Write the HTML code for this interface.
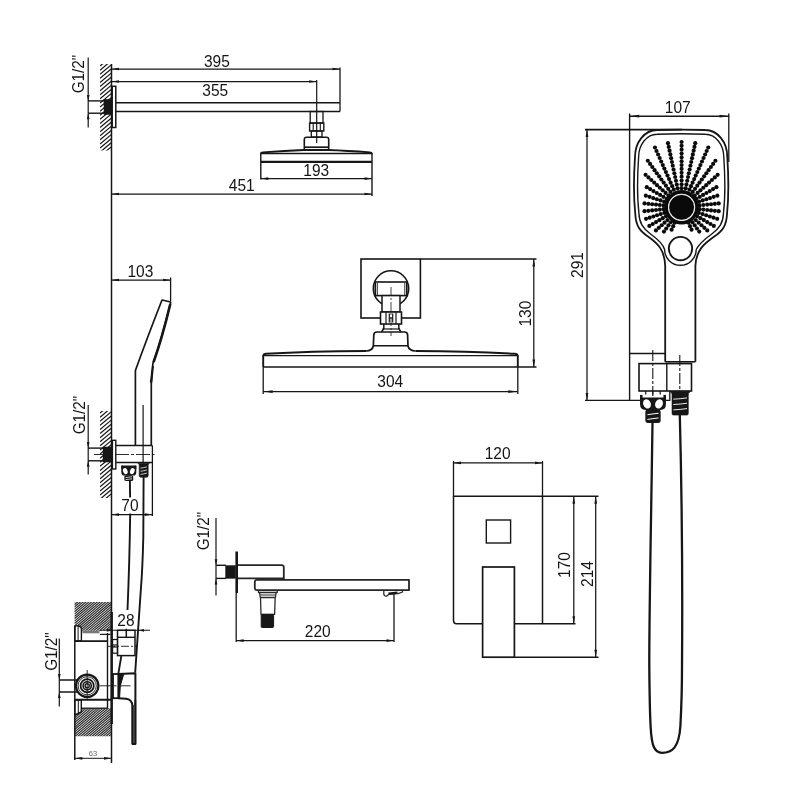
<!DOCTYPE html>
<html><head><meta charset="utf-8"><title>Shower set dimensions</title>
<style>
html,body{margin:0;padding:0;background:#fff;}
body{width:800px;height:800px;overflow:hidden;font-family:"Liberation Sans",sans-serif;}
svg{display:block;font-family:"Liberation Sans",sans-serif;filter:grayscale(1);}
</style></head>
<body>
<svg width="800" height="800" viewBox="0 0 800 800">
<rect width="800" height="800" fill="#fff"/>
<clipPath id="h1"><rect x="100" y="64" width="11.5" height="86.5"/></clipPath>
<g clip-path="url(#h1)" stroke="#161616" stroke-width="1.2"><line x1="100" y1="62" x2="111.5" y2="52.35"/><line x1="100" y1="66.1" x2="111.5" y2="56.45"/><line x1="100" y1="70.2" x2="111.5" y2="60.55"/><line x1="100" y1="74.3" x2="111.5" y2="64.65"/><line x1="100" y1="78.4" x2="111.5" y2="68.75"/><line x1="100" y1="82.5" x2="111.5" y2="72.85"/><line x1="100" y1="86.6" x2="111.5" y2="76.95"/><line x1="100" y1="90.7" x2="111.5" y2="81.05"/><line x1="100" y1="94.8" x2="111.5" y2="85.15"/><line x1="100" y1="98.9" x2="111.5" y2="89.25"/><line x1="100" y1="103" x2="111.5" y2="93.35"/><line x1="100" y1="107.1" x2="111.5" y2="97.45"/><line x1="100" y1="111.2" x2="111.5" y2="101.55"/><line x1="100" y1="115.3" x2="111.5" y2="105.65"/><line x1="100" y1="119.4" x2="111.5" y2="109.75"/><line x1="100" y1="123.5" x2="111.5" y2="113.85"/><line x1="100" y1="127.6" x2="111.5" y2="117.95"/><line x1="100" y1="131.7" x2="111.5" y2="122.05"/><line x1="100" y1="135.8" x2="111.5" y2="126.15"/><line x1="100" y1="139.9" x2="111.5" y2="130.25"/><line x1="100" y1="144" x2="111.5" y2="134.35"/><line x1="100" y1="148.1" x2="111.5" y2="138.45"/><line x1="100" y1="152.2" x2="111.5" y2="142.55"/><line x1="100" y1="156.3" x2="111.5" y2="146.65"/><line x1="100" y1="160.4" x2="111.5" y2="150.75"/></g>
<line x1="111.5" y1="64" x2="111.5" y2="763" stroke="#161616" stroke-width="1.5" stroke-linecap="butt"/>
<rect x="112.2" y="86.3" width="3.6" height="41.2" rx="0" fill="none" stroke="#161616" stroke-width="1.5"/>
<line x1="88" y1="100.9" x2="104" y2="100.9" stroke="#161616" stroke-width="1.4" stroke-linecap="butt"/>
<line x1="88" y1="113.2" x2="104" y2="113.2" stroke="#161616" stroke-width="1.4" stroke-linecap="butt"/>
<rect x="104" y="99.3" width="7.5" height="15.2" rx="0" fill="#161616" stroke="#161616" stroke-width="0.5"/>
<line x1="88.2" y1="57.5" x2="88.2" y2="127.5" stroke="#161616" stroke-width="1.2" stroke-linecap="butt"/>
<polygon points="88.2,100.9 86.85,94.9 89.55,94.9" fill="#161616"/>
<polygon points="88.2,113.2 89.55,119.2 86.85,119.2" fill="#161616"/>
<text x="0" y="0" font-size="15.3" text-anchor="middle" fill="#151515" transform="translate(84 74) rotate(-90) scale(1 1.06)">G1/2"</text>
<line x1="115.8" y1="102.8" x2="340" y2="102.8" stroke="#161616" stroke-width="1.4" stroke-linecap="butt"/>
<line x1="115.8" y1="111.5" x2="340" y2="111.5" stroke="#161616" stroke-width="1.4" stroke-linecap="butt"/>
<line x1="340" y1="67.5" x2="340" y2="111.5" stroke="#161616" stroke-width="1.3" stroke-linecap="butt"/>
<line x1="111.5" y1="69" x2="340" y2="69" stroke="#161616" stroke-width="1.25" stroke-linecap="butt"/>
<polygon points="111.5,69 119,67.65 119,70.35" fill="#161616"/>
<polygon points="340,69 332.5,70.35 332.5,67.65" fill="#161616"/>
<line x1="111.5" y1="81.5" x2="316.7" y2="81.5" stroke="#161616" stroke-width="1.25" stroke-linecap="butt"/>
<polygon points="111.5,81.5 119,80.15 119,82.85" fill="#161616"/>
<polygon points="316.7,81.5 309.2,82.85 309.2,80.15" fill="#161616"/>
<line x1="316.7" y1="80" x2="316.7" y2="143" stroke="#161616" stroke-width="1.2" stroke-linecap="butt"/>
<text x="0" y="0" font-size="15.5" text-anchor="middle" fill="#151515" transform="translate(216.9 66.8) scale(1 1.035)">395</text>
<text x="0" y="0" font-size="15.5" text-anchor="middle" fill="#151515" transform="translate(215.2 95.9) scale(1 1.035)">355</text>
<rect x="310.2" y="111.5" width="12.8" height="11.5" rx="0" fill="none" stroke="#161616" stroke-width="1.3"/>
<rect x="309.6" y="123" width="14.2" height="8" rx="0" fill="none" stroke="#161616" stroke-width="1.4"/>
<line x1="313.2" y1="123" x2="313.2" y2="131" stroke="#161616" stroke-width="1.1" stroke-linecap="butt"/>
<line x1="320.3" y1="123" x2="320.3" y2="131" stroke="#161616" stroke-width="1.1" stroke-linecap="butt"/>
<rect x="311.3" y="131" width="10.7" height="6" rx="0" fill="none" stroke="#161616" stroke-width="1.3"/>
<path d="M304.3,150 L304.3,139.5 Q304.3,137.3 306.5,137.3 L326.5,137.3 Q328.7,137.3 328.7,139.5 L328.7,150" fill="none" stroke="#161616" stroke-width="1.6" stroke-linejoin="round" stroke-linecap="butt"/>
<line x1="304.3" y1="147.2" x2="328.7" y2="147.2" stroke="#161616" stroke-width="1.7" stroke-linecap="butt"/>
<path d="M260.8,153.6 Q261,152.6 263,152.4 Q285,150.6 304,150 L328,150 Q347,150.6 370,152.4 Q371.8,152.6 372,153.6" fill="none" stroke="#161616" stroke-width="1.9" stroke-linejoin="round" stroke-linecap="butt"/>
<line x1="260.8" y1="153.4" x2="372" y2="153.4" stroke="#161616" stroke-width="1.5" stroke-linecap="butt"/>
<line x1="260.8" y1="161.9" x2="372" y2="161.9" stroke="#161616" stroke-width="2.1" stroke-linecap="butt"/>
<line x1="260.8" y1="153" x2="260.8" y2="179.5" stroke="#161616" stroke-width="1.4" stroke-linecap="butt"/>
<line x1="372" y1="153" x2="372" y2="196" stroke="#161616" stroke-width="1.4" stroke-linecap="butt"/>
<line x1="260.8" y1="178.6" x2="372" y2="178.6" stroke="#161616" stroke-width="1.25" stroke-linecap="butt"/>
<polygon points="260.8,178.6 268.3,177.25 268.3,179.95" fill="#161616"/>
<polygon points="372,178.6 364.5,179.95 364.5,177.25" fill="#161616"/>
<text x="0" y="0" font-size="15.5" text-anchor="middle" fill="#151515" transform="translate(316.2 175.9) scale(1 1.035)">193</text>
<line x1="111.5" y1="194" x2="372" y2="194" stroke="#161616" stroke-width="1.25" stroke-linecap="butt"/>
<polygon points="111.5,194 119,192.65 119,195.35" fill="#161616"/>
<polygon points="372,194 364.5,195.35 364.5,192.65" fill="#161616"/>
<text x="0" y="0" font-size="15.5" text-anchor="middle" fill="#151515" transform="translate(241.8 190.8) scale(1 1.035)">451</text>
<rect x="361" y="259" width="59.4" height="59" rx="0" fill="none" stroke="#161616" stroke-width="1.6"/>
<line x1="420.4" y1="259" x2="536.5" y2="259" stroke="#161616" stroke-width="1.4" stroke-linecap="butt"/>
<circle cx="391" cy="288.5" r="17.7" fill="none" stroke="#161616" stroke-width="1.6"/>
<rect x="375.3" y="282" width="31.5" height="13.6" rx="0" fill="#fff" stroke="#161616" stroke-width="1.6"/>
<line x1="377.3" y1="283" x2="377.3" y2="295" stroke="#161616" stroke-width="0.9" stroke-linecap="butt"/>
<line x1="404.8" y1="283" x2="404.8" y2="295" stroke="#161616" stroke-width="0.9" stroke-linecap="butt"/>
<rect x="382" y="295.6" width="18" height="16.4" rx="0" fill="#fff" stroke="#161616" stroke-width="1.5"/>
<rect x="380.5" y="312" width="21" height="12" rx="0" fill="#fff" stroke="#161616" stroke-width="1.6"/>
<line x1="386" y1="312" x2="386" y2="324" stroke="#161616" stroke-width="1.2" stroke-linecap="butt"/>
<line x1="389.3" y1="313.5" x2="389.3" y2="322.5" stroke="#161616" stroke-width="1.2" stroke-linecap="butt"/>
<line x1="392.7" y1="313.5" x2="392.7" y2="322.5" stroke="#161616" stroke-width="1.2" stroke-linecap="butt"/>
<line x1="396" y1="312" x2="396" y2="324" stroke="#161616" stroke-width="1.2" stroke-linecap="butt"/>
<line x1="389.3" y1="318" x2="392.7" y2="318" stroke="#161616" stroke-width="1.1" stroke-linecap="butt"/>
<path d="M383.8,324 L383.8,328.5 L381.5,332 M398.8,324 L398.8,328.5 L401,332" fill="none" stroke="#161616" stroke-width="1.5" stroke-linejoin="round" stroke-linecap="butt"/>
<line x1="382.5" y1="329" x2="400" y2="329" stroke="#161616" stroke-width="1.2" stroke-linecap="butt"/>
<path d="M366,351 Q372.5,350.6 373.3,346 L373.8,335 Q373.8,332 377,332 L404.5,332 Q407.6,332 407.6,335 L408,346 Q409,350.6 415.5,351" fill="none" stroke="#161616" stroke-width="1.7" stroke-linejoin="round" stroke-linecap="butt"/>
<line x1="373.6" y1="345.8" x2="407.8" y2="345.8" stroke="#161616" stroke-width="1.4" stroke-linecap="butt"/>
<line x1="391" y1="287" x2="391" y2="336" stroke="#161616" stroke-width="0.8" stroke-linecap="butt" stroke-dasharray="9 2 2 2"/>
<path d="M263.2,367 L263.2,355.5 Q263.5,354.2 266,353.8 Q310,351.3 366,351 M415.5,351 Q470,351.3 515,353.8 Q517.5,354.2 517.8,355.5 L517.8,367" fill="none" stroke="#161616" stroke-width="1.9" stroke-linejoin="round" stroke-linecap="butt"/>
<line x1="263.2" y1="355.7" x2="517.8" y2="355.7" stroke="#161616" stroke-width="1.3" stroke-linecap="butt"/>
<line x1="263.2" y1="367" x2="536.5" y2="367" stroke="#161616" stroke-width="1.6" stroke-linecap="butt"/>
<line x1="263.2" y1="367" x2="263.2" y2="394" stroke="#161616" stroke-width="1.3" stroke-linecap="butt"/>
<line x1="517.8" y1="367" x2="517.8" y2="394" stroke="#161616" stroke-width="1.3" stroke-linecap="butt"/>
<line x1="263.2" y1="391.6" x2="517.8" y2="391.6" stroke="#161616" stroke-width="1.4" stroke-linecap="butt"/>
<polygon points="263.2,391.6 272.7,390.25 272.7,392.95" fill="#161616"/>
<polygon points="517.8,391.6 508.3,392.95 508.3,390.25" fill="#161616"/>
<text x="0" y="0" font-size="15.5" text-anchor="middle" fill="#151515" transform="translate(390.2 386.5) scale(1 1.035)">304</text>
<line x1="533.8" y1="259" x2="533.8" y2="367" stroke="#161616" stroke-width="1.25" stroke-linecap="butt"/>
<polygon points="533.8,259 535.15,266.5 532.45,266.5" fill="#161616"/>
<polygon points="533.8,367 532.45,359.5 535.15,359.5" fill="#161616"/>
<text x="0" y="0" font-size="15.5" text-anchor="middle" fill="#151515" transform="translate(530.8 313.6) rotate(-90) scale(1 1.035)">130</text>
<line x1="111.5" y1="280" x2="170.6" y2="280" stroke="#161616" stroke-width="1.25" stroke-linecap="butt"/>
<polygon points="111.5,280 119,278.65 119,281.35" fill="#161616"/>
<polygon points="170.6,280 163.1,281.35 163.1,278.65" fill="#161616"/>
<line x1="170.6" y1="277.5" x2="170.6" y2="301.5" stroke="#161616" stroke-width="1.3" stroke-linecap="butt"/>
<text x="0" y="0" font-size="15.5" text-anchor="middle" fill="#151515" transform="translate(140.4 276.9) scale(1 1.035)">103</text>
<path d="M170.8,302 L162,300 C153,323 143.5,348 135.4,370.5 L135.4,445.6" fill="none" stroke="#161616" stroke-width="1.7" stroke-linejoin="round" stroke-linecap="butt"/>
<path d="M170.8,302 C165,325 158,350 153,363 C151.8,370 151.3,378 151.3,384 L151.3,445.6" fill="none" stroke="#161616" stroke-width="1.7" stroke-linejoin="round" stroke-linecap="butt"/>
<path d="M170.3,304 C165,326 158.3,349 153.6,362" fill="none" stroke="#161616" stroke-width="2.6" stroke-linejoin="round" stroke-linecap="butt"/>
<path d="M153.2,366.5 L150.6,382 L151.6,382 Z" fill="#161616" stroke="#161616" stroke-width="1.5" stroke-linejoin="round" stroke-linecap="butt"/>
<line x1="143.1" y1="405" x2="143.1" y2="462.4" stroke="#161616" stroke-width="1.2" stroke-linecap="butt"/>
<clipPath id="h2"><rect x="100" y="411" width="11.5" height="87"/></clipPath>
<g clip-path="url(#h2)" stroke="#161616" stroke-width="1.2"><line x1="100" y1="409" x2="111.5" y2="399.35"/><line x1="100" y1="413.1" x2="111.5" y2="403.45"/><line x1="100" y1="417.2" x2="111.5" y2="407.55"/><line x1="100" y1="421.3" x2="111.5" y2="411.65"/><line x1="100" y1="425.4" x2="111.5" y2="415.75"/><line x1="100" y1="429.5" x2="111.5" y2="419.85"/><line x1="100" y1="433.6" x2="111.5" y2="423.95"/><line x1="100" y1="437.7" x2="111.5" y2="428.05"/><line x1="100" y1="441.8" x2="111.5" y2="432.15"/><line x1="100" y1="445.9" x2="111.5" y2="436.25"/><line x1="100" y1="450" x2="111.5" y2="440.35"/><line x1="100" y1="454.1" x2="111.5" y2="444.45"/><line x1="100" y1="458.2" x2="111.5" y2="448.55"/><line x1="100" y1="462.3" x2="111.5" y2="452.65"/><line x1="100" y1="466.4" x2="111.5" y2="456.75"/><line x1="100" y1="470.5" x2="111.5" y2="460.85"/><line x1="100" y1="474.6" x2="111.5" y2="464.95"/><line x1="100" y1="478.7" x2="111.5" y2="469.05"/><line x1="100" y1="482.8" x2="111.5" y2="473.15"/><line x1="100" y1="486.9" x2="111.5" y2="477.25"/><line x1="100" y1="491" x2="111.5" y2="481.35"/><line x1="100" y1="495.1" x2="111.5" y2="485.45"/><line x1="100" y1="499.2" x2="111.5" y2="489.55"/><line x1="100" y1="503.3" x2="111.5" y2="493.65"/><line x1="100" y1="507.4" x2="111.5" y2="497.75"/><line x1="100" y1="511.5" x2="111.5" y2="501.85"/></g>
<rect x="112.4" y="440.3" width="3.4" height="28.7" rx="0" fill="none" stroke="#161616" stroke-width="1.4"/>
<line x1="88" y1="448.1" x2="103" y2="448.1" stroke="#161616" stroke-width="1.4" stroke-linecap="butt"/>
<line x1="88" y1="460.8" x2="103" y2="460.8" stroke="#161616" stroke-width="1.4" stroke-linecap="butt"/>
<rect x="103" y="447" width="8.5" height="15" rx="0" fill="#161616" stroke="#161616" stroke-width="0.5"/>
<line x1="88.2" y1="405" x2="88.2" y2="474.4" stroke="#161616" stroke-width="1.2" stroke-linecap="butt"/>
<polygon points="88.2,448.1 86.85,442.1 89.55,442.1" fill="#161616"/>
<polygon points="88.2,460.8 89.55,466.8 86.85,466.8" fill="#161616"/>
<text x="0" y="0" font-size="15.3" text-anchor="middle" fill="#151515" transform="translate(84.5 415) rotate(-90) scale(1 1.06)">G1/2"</text>
<line x1="115.8" y1="445.6" x2="152.4" y2="445.6" stroke="#161616" stroke-width="1.5" stroke-linecap="butt"/>
<line x1="115.8" y1="462.4" x2="152.4" y2="462.4" stroke="#161616" stroke-width="1.5" stroke-linecap="butt"/>
<line x1="152.4" y1="445.6" x2="152.4" y2="516" stroke="#161616" stroke-width="1.3" stroke-linecap="butt"/>
<line x1="94" y1="454.5" x2="154.5" y2="454.5" stroke="#161616" stroke-width="0.9" stroke-linecap="butt" stroke-dasharray="14 2 3 2"/>
<rect x="121.29" y="465.6" width="1.45" height="3.48" fill="#161616"/><rect x="134.86" y="465.6" width="1.45" height="3.48" fill="#161616"/><path d="M121.29,465.6 L136.31,465.6 L136.31,471.88 Q136.31,475.58 133.09,475.58 L124.51,475.58 Q121.29,475.58 121.29,471.88 Z" fill="#161616"/><ellipse cx="125.32" cy="471.19" rx="2.2" ry="3.13" fill="#fff" transform="rotate(-22 125.32 471.19)"/><ellipse cx="132.28" cy="471.19" rx="2.2" ry="3.13" fill="#fff" transform="rotate(22 132.28 471.19)"/><rect x="124.36" y="475.29" width="8.87" height="5.8" rx="1.51" fill="#161616"/><path d="M125.55,477.66 Q128.8,477.14 132.05,476.79" fill="none" stroke="#fff" stroke-width="0.75"/><path d="M125.55,479.69 Q128.8,479.17 132.05,478.82" fill="none" stroke="#fff" stroke-width="0.75"/>
<path d="M138,463.3 L149.4,463.3 L148.2,464.74 L148.2,475.7 Q148.2,477.2 146.7,477.2 L140.7,477.2 Q139.2,477.2 139.2,475.7 L139.2,464.74 Z" fill="#161616" stroke="#161616" stroke-width="0.6" stroke-linejoin="round" stroke-linecap="butt"/>
<path d="M140.5,468.11 Q143.7,467.81 146.9,466.81" fill="none" stroke="#fff" stroke-width="0.75" stroke-linejoin="round" stroke-linecap="butt"/>
<path d="M140.5,471.24 Q143.7,470.94 146.9,469.94" fill="none" stroke="#fff" stroke-width="0.75" stroke-linejoin="round" stroke-linecap="butt"/>
<path d="M140.5,474.36 Q143.7,474.06 146.9,473.06" fill="none" stroke="#fff" stroke-width="0.75" stroke-linejoin="round" stroke-linecap="butt"/>
<line x1="129.9" y1="481" x2="130.1" y2="497.5" stroke="#161616" stroke-width="1.9" stroke-linecap="butt"/>
<path d="M130.2,513.5 Q129.6,560 127.5,610" fill="none" stroke="#161616" stroke-width="1.9" stroke-linejoin="round" stroke-linecap="butt"/>
<path d="M143.6,477 L143.3,537.5 Q142.5,570 140.8,590 L135.2,672.5" fill="none" stroke="#161616" stroke-width="1.9" stroke-linejoin="round" stroke-linecap="butt"/>
<line x1="111.5" y1="514.6" x2="152.4" y2="514.6" stroke="#161616" stroke-width="1.25" stroke-linecap="butt"/>
<polygon points="111.5,514.6 119,513.25 119,515.95" fill="#161616"/>
<polygon points="152.4,514.6 144.9,515.95 144.9,513.25" fill="#161616"/>
<text x="0" y="0" font-size="15.5" text-anchor="middle" fill="#151515" transform="translate(129.9 510.6) scale(1 1.035)">70</text>
<clipPath id="h3"><rect x="74.4" y="602" width="36.9" height="28.8"/></clipPath>
<g clip-path="url(#h3)" stroke="#262626" stroke-width="1.15"><line x1="74.4" y1="600" x2="111.3" y2="569.04"/><line x1="74.4" y1="602.35" x2="111.3" y2="571.39"/><line x1="74.4" y1="604.7" x2="111.3" y2="573.74"/><line x1="74.4" y1="607.05" x2="111.3" y2="576.09"/><line x1="74.4" y1="609.4" x2="111.3" y2="578.44"/><line x1="74.4" y1="611.75" x2="111.3" y2="580.79"/><line x1="74.4" y1="614.1" x2="111.3" y2="583.14"/><line x1="74.4" y1="616.45" x2="111.3" y2="585.49"/><line x1="74.4" y1="618.8" x2="111.3" y2="587.84"/><line x1="74.4" y1="621.15" x2="111.3" y2="590.19"/><line x1="74.4" y1="623.5" x2="111.3" y2="592.54"/><line x1="74.4" y1="625.85" x2="111.3" y2="594.89"/><line x1="74.4" y1="628.2" x2="111.3" y2="597.24"/><line x1="74.4" y1="630.55" x2="111.3" y2="599.59"/><line x1="74.4" y1="632.9" x2="111.3" y2="601.94"/><line x1="74.4" y1="635.25" x2="111.3" y2="604.29"/><line x1="74.4" y1="637.6" x2="111.3" y2="606.64"/><line x1="74.4" y1="639.95" x2="111.3" y2="608.99"/><line x1="74.4" y1="642.3" x2="111.3" y2="611.34"/><line x1="74.4" y1="644.65" x2="111.3" y2="613.69"/><line x1="74.4" y1="647" x2="111.3" y2="616.04"/><line x1="74.4" y1="649.35" x2="111.3" y2="618.39"/><line x1="74.4" y1="651.7" x2="111.3" y2="620.74"/><line x1="74.4" y1="654.05" x2="111.3" y2="623.09"/><line x1="74.4" y1="656.4" x2="111.3" y2="625.44"/><line x1="74.4" y1="658.75" x2="111.3" y2="627.79"/><line x1="74.4" y1="661.1" x2="111.3" y2="630.14"/><line x1="74.4" y1="663.45" x2="111.3" y2="632.49"/></g>
<clipPath id="h4"><polygon points="74.4,715 81.4,712 81.4,708.3 111.3,708.3 111.3,736.3 74.4,736.3"/></clipPath>
<g clip-path="url(#h4)" stroke="#262626" stroke-width="1.15"><line x1="74.4" y1="706.3" x2="111.3" y2="675.34"/><line x1="74.4" y1="708.65" x2="111.3" y2="677.69"/><line x1="74.4" y1="711" x2="111.3" y2="680.04"/><line x1="74.4" y1="713.35" x2="111.3" y2="682.39"/><line x1="74.4" y1="715.7" x2="111.3" y2="684.74"/><line x1="74.4" y1="718.05" x2="111.3" y2="687.09"/><line x1="74.4" y1="720.4" x2="111.3" y2="689.44"/><line x1="74.4" y1="722.75" x2="111.3" y2="691.79"/><line x1="74.4" y1="725.1" x2="111.3" y2="694.14"/><line x1="74.4" y1="727.45" x2="111.3" y2="696.49"/><line x1="74.4" y1="729.8" x2="111.3" y2="698.84"/><line x1="74.4" y1="732.15" x2="111.3" y2="701.19"/><line x1="74.4" y1="734.5" x2="111.3" y2="703.54"/><line x1="74.4" y1="736.85" x2="111.3" y2="705.89"/><line x1="74.4" y1="739.2" x2="111.3" y2="708.24"/><line x1="74.4" y1="741.55" x2="111.3" y2="710.59"/><line x1="74.4" y1="743.9" x2="111.3" y2="712.94"/><line x1="74.4" y1="746.25" x2="111.3" y2="715.29"/><line x1="74.4" y1="748.6" x2="111.3" y2="717.64"/><line x1="74.4" y1="750.95" x2="111.3" y2="719.99"/><line x1="74.4" y1="753.3" x2="111.3" y2="722.34"/><line x1="74.4" y1="755.65" x2="111.3" y2="724.69"/><line x1="74.4" y1="758" x2="111.3" y2="727.04"/><line x1="74.4" y1="760.35" x2="111.3" y2="729.39"/><line x1="74.4" y1="762.7" x2="111.3" y2="731.74"/><line x1="74.4" y1="765.05" x2="111.3" y2="734.09"/><line x1="74.4" y1="767.4" x2="111.3" y2="736.44"/></g>
<line x1="111.7" y1="612" x2="111.7" y2="724" stroke="#161616" stroke-width="2.4" stroke-linecap="butt"/>
<line x1="82.5" y1="632" x2="99.5" y2="632" stroke="#777" stroke-width="2.6" stroke-linecap="butt"/>
<path d="M74.8,641 L74.8,627.5 Q74.8,625.6 76.8,625.6 L79.2,626.2 Q81.4,626.8 81.4,629 L81.4,641 Z" fill="#fff" stroke="#161616" stroke-width="1.4" stroke-linejoin="round" stroke-linecap="butt"/>
<line x1="78.1" y1="626" x2="78.1" y2="641" stroke="#161616" stroke-width="1.0" stroke-linecap="butt"/>
<path d="M74.8,699.7 L74.8,715 L81.3,712 L81.3,699.7 Z" fill="#fff" stroke="#161616" stroke-width="1.4" stroke-linejoin="round" stroke-linecap="butt"/>
<line x1="78.3" y1="699.7" x2="78.3" y2="713.3" stroke="#161616" stroke-width="1.0" stroke-linecap="butt"/>
<line x1="74.8" y1="625.6" x2="74.8" y2="760" stroke="#161616" stroke-width="1.5" stroke-linecap="butt"/>
<line x1="74.8" y1="641.2" x2="108" y2="641.2" stroke="#161616" stroke-width="1.7" stroke-linecap="butt"/>
<line x1="100" y1="634.4" x2="110.5" y2="634.4" stroke="#161616" stroke-width="1.2" stroke-linecap="butt"/>
<line x1="74.8" y1="699.7" x2="111" y2="699.7" stroke="#161616" stroke-width="1.9" stroke-linecap="butt"/>
<line x1="81.3" y1="708.2" x2="107.6" y2="708.2" stroke="#161616" stroke-width="1.3" stroke-linecap="butt"/>
<line x1="82.5" y1="709.8" x2="99.5" y2="709.8" stroke="#777" stroke-width="0.9" stroke-linecap="butt"/>
<line x1="107.5" y1="633" x2="107.5" y2="708.2" stroke="#161616" stroke-width="1.4" stroke-linecap="butt"/>
<line x1="100" y1="630.3" x2="111.5" y2="630.3" stroke="#161616" stroke-width="1.0" stroke-linecap="butt" stroke-dasharray="2 1.2"/>
<line x1="111.5" y1="630.3" x2="150" y2="630.3" stroke="#161616" stroke-width="1.1" stroke-linecap="butt"/>
<polygon points="112.3,630.3 106.8,631.65 106.8,628.95" fill="#161616"/>
<polygon points="138.5,630.3 144,628.95 144,631.65" fill="#161616"/>
<text x="0" y="0" font-size="15.5" text-anchor="middle" fill="#151515" transform="translate(125.9 625.6) scale(1 1.035)">28</text>
<rect x="117.5" y="630.3" width="17.5" height="25.3" rx="0" fill="none" stroke="#161616" stroke-width="1.5"/>
<line x1="117.5" y1="637.3" x2="135" y2="637.3" stroke="#161616" stroke-width="1.4" stroke-linecap="butt"/>
<line x1="126.3" y1="628.8" x2="126.3" y2="637.3" stroke="#161616" stroke-width="1.5" stroke-linecap="butt"/>
<rect x="112.6" y="639.5" width="4.9" height="5.5" rx="0" fill="none" stroke="#161616" stroke-width="1.2"/>
<rect x="112.6" y="647" width="4.9" height="6.2" rx="0" fill="none" stroke="#161616" stroke-width="1.2"/>
<line x1="107" y1="646.3" x2="136.5" y2="646.3" stroke="#161616" stroke-width="0.9" stroke-linecap="butt" stroke-dasharray="8 2 2 2"/>
<path d="M121.3,656 L118.3,674" fill="none" stroke="#161616" stroke-width="1.8" stroke-linejoin="round" stroke-linecap="butt"/>
<rect x="113" y="674" width="5.3" height="24.2" rx="0" fill="none" stroke="#161616" stroke-width="1.8"/>
<path d="M118.3,674 L135.4,673.3 L135.4,744 L132.5,744 L132.5,706 Q132,699.5 126,698.8 L118.3,698.3" fill="none" stroke="#161616" stroke-width="2.0" stroke-linejoin="round" stroke-linecap="butt"/>
<path d="M118.6,674.5 L123.6,674.5 L120.3,686 L119.6,698 L118.6,698 Z" fill="#161616" stroke="#161616" stroke-width="1.0" stroke-linejoin="round" stroke-linecap="butt"/>
<line x1="132.6" y1="705" x2="132.6" y2="744" stroke="#161616" stroke-width="2.0" stroke-linecap="butt"/>
<line x1="135.3" y1="700" x2="135.3" y2="744" stroke="#161616" stroke-width="1.8" stroke-linecap="butt"/>
<line x1="59.3" y1="680" x2="77" y2="680" stroke="#161616" stroke-width="1.5" stroke-linecap="butt"/>
<line x1="59.3" y1="692" x2="77" y2="692" stroke="#161616" stroke-width="1.5" stroke-linecap="butt"/>
<circle cx="87.2" cy="685.8" r="11.2" fill="#fff" stroke="#161616" stroke-width="2.2"/>
<circle cx="87.2" cy="685.8" r="9.1" fill="none" stroke="#161616" stroke-width="0.9"/>
<circle cx="87.2" cy="685.8" r="6.6" fill="none" stroke="#161616" stroke-width="1.8"/>
<circle cx="87.2" cy="685.8" r="4.1" fill="none" stroke="#161616" stroke-width="1.6"/>
<circle cx="87.2" cy="685.8" r="2.1" fill="none" stroke="#161616" stroke-width="1.4"/>
<line x1="87.2" y1="670" x2="87.2" y2="700" stroke="#161616" stroke-width="0.9" stroke-linecap="butt"/>
<line x1="99.5" y1="685.8" x2="132.5" y2="685.8" stroke="#161616" stroke-width="0.9" stroke-linecap="butt" stroke-dasharray="12 2 3 2"/>
<line x1="59.3" y1="638.5" x2="59.3" y2="706.5" stroke="#161616" stroke-width="1.2" stroke-linecap="butt"/>
<polygon points="59.3,680 57.95,674 60.65,674" fill="#161616"/>
<polygon points="59.3,692 60.65,698 57.95,698" fill="#161616"/>
<text x="0" y="0" font-size="15.3" text-anchor="middle" fill="#151515" transform="translate(56.5 651.5) rotate(-90) scale(1 1.06)">G1/2"</text>
<line x1="74.8" y1="758.3" x2="111.5" y2="758.3" stroke="#161616" stroke-width="1.0" stroke-linecap="butt"/>
<polygon points="74.8,758.3 82.3,756.95 82.3,759.65" fill="#161616"/>
<polygon points="111.5,758.3 104,759.65 104,756.95" fill="#161616"/>
<text x="0" y="0" font-size="7.5" text-anchor="middle" fill="#666" transform="translate(93 755.8) scale(1 1.035)">63</text>
<line x1="216" y1="518" x2="216" y2="595.5" stroke="#161616" stroke-width="1.2" stroke-linecap="butt"/>
<polygon points="216,565.3 214.65,559.3 217.35,559.3" fill="#161616"/>
<polygon points="216,578.4 217.35,584.4 214.65,584.4" fill="#161616"/>
<text x="0" y="0" font-size="15.3" text-anchor="middle" fill="#151515" transform="translate(208.6 531) rotate(-90) scale(1 1.06)">G1/2"</text>
<line x1="216" y1="565.3" x2="226" y2="565.3" stroke="#161616" stroke-width="1.4" stroke-linecap="butt"/>
<line x1="216" y1="578.4" x2="226" y2="578.4" stroke="#161616" stroke-width="1.4" stroke-linecap="butt"/>
<rect x="225.6" y="565.6" width="9.9" height="12.7" rx="0" fill="#161616" stroke="#161616" stroke-width="0.5"/>
<line x1="236.7" y1="551.5" x2="236.7" y2="593" stroke="#161616" stroke-width="2.6" stroke-linecap="butt"/>
<path d="M238,565.2 L281.5,565.2 Q283.8,565.2 283.8,567.5 L283.8,578.4 L238,578.4" fill="none" stroke="#262626" stroke-width="1.8" stroke-linejoin="round" stroke-linecap="butt"/>
<path d="M409,579.8 L257,579.8 Q254.8,579.8 254.8,582 L254.8,588 Q254.8,590.2 257,590.2 L409,590.2 Z" fill="none" stroke="#262626" stroke-width="1.8" stroke-linejoin="round" stroke-linecap="butt"/>
<line x1="283.8" y1="578.4" x2="283.8" y2="579.8" stroke="#161616" stroke-width="1.3" stroke-linecap="butt"/>
<path d="M258.5,590.2 L258.5,592.5 L277.2,592.5 L277.2,590.2 M259.5,592.5 L260.3,597.5 L275.4,597.5 L276.2,592.5 M260.5,597.5 L261,614.4 L274.6,614.4 L275.2,597.5" fill="none" stroke="#2a2a2a" stroke-width="1.3" stroke-linejoin="round" stroke-linecap="butt"/>
<line x1="260" y1="595" x2="276" y2="595" stroke="#2a2a2a" stroke-width="1.0" stroke-linecap="butt"/>
<rect x="261.2" y="614.4" width="12.4" height="13.1" rx="1" fill="#161616" stroke="#161616" stroke-width="1.0"/>
<path d="M383.8,590.2 L383.8,594 Q384,596.3 386.5,596.2 L389,594.3 L398,593.6 L402.5,592 L402.5,590.2" fill="none" stroke="#2a2a2a" stroke-width="1.3" stroke-linejoin="round" stroke-linecap="butt"/>
<path d="M388.5,593.6 L397.5,592.6" fill="none" stroke="#161616" stroke-width="2.2" stroke-linejoin="round" stroke-linecap="butt"/>
<line x1="236.2" y1="593" x2="236.2" y2="642" stroke="#2a2a2a" stroke-width="1.4" stroke-linecap="butt"/>
<line x1="394" y1="593.5" x2="394" y2="642" stroke="#2a2a2a" stroke-width="1.4" stroke-linecap="butt"/>
<line x1="236.2" y1="640.6" x2="394" y2="640.6" stroke="#161616" stroke-width="1.4" stroke-linecap="butt"/>
<polygon points="236.2,640.6 243.7,639.25 243.7,641.95" fill="#161616"/>
<polygon points="394,640.6 386.5,641.95 386.5,639.25" fill="#161616"/>
<text x="0" y="0" font-size="15.5" text-anchor="middle" fill="#151515" transform="translate(317.8 636.7) scale(1 1.035)">220</text>
<path d="M453.5,496.3 L542.5,496.3 L542.5,623.8 L456.5,623.8 Q453.5,623.8 453.5,620.5 Z" fill="none" stroke="#161616" stroke-width="1.5" stroke-linejoin="round" stroke-linecap="butt"/>
<line x1="453.5" y1="461" x2="453.5" y2="496.3" stroke="#161616" stroke-width="1.3" stroke-linecap="butt"/>
<line x1="542.5" y1="461" x2="542.5" y2="496.3" stroke="#161616" stroke-width="1.3" stroke-linecap="butt"/>
<line x1="453.5" y1="462.9" x2="542.5" y2="462.9" stroke="#161616" stroke-width="1.25" stroke-linecap="butt"/>
<polygon points="453.5,462.9 461,461.55 461,464.25" fill="#161616"/>
<polygon points="542.5,462.9 535,464.25 535,461.55" fill="#161616"/>
<text x="0" y="0" font-size="15.5" text-anchor="middle" fill="#151515" transform="translate(497.6 459) scale(1 1.035)">120</text>
<rect x="486.3" y="520" width="24.3" height="23" rx="0" fill="none" stroke="#161616" stroke-width="1.4"/>
<rect x="482.6" y="567" width="31.8" height="90.2" rx="0" fill="#fff" stroke="#161616" stroke-width="1.7"/>
<line x1="542.5" y1="496.3" x2="598.5" y2="496.3" stroke="#161616" stroke-width="1.4" stroke-linecap="butt"/>
<line x1="542.5" y1="623.8" x2="575.5" y2="623.8" stroke="#161616" stroke-width="1.4" stroke-linecap="butt"/>
<line x1="514.4" y1="657.2" x2="598.5" y2="657.2" stroke="#161616" stroke-width="1.4" stroke-linecap="butt"/>
<line x1="573.8" y1="496.3" x2="573.8" y2="623.8" stroke="#161616" stroke-width="1.25" stroke-linecap="butt"/>
<polygon points="573.8,496.3 575.15,503.8 572.45,503.8" fill="#161616"/>
<polygon points="573.8,623.8 572.45,616.3 575.15,616.3" fill="#161616"/>
<line x1="595.7" y1="496.3" x2="595.7" y2="657.2" stroke="#161616" stroke-width="1.25" stroke-linecap="butt"/>
<polygon points="595.7,496.3 597.05,503.8 594.35,503.8" fill="#161616"/>
<polygon points="595.7,657.2 594.35,649.7 597.05,649.7" fill="#161616"/>
<text x="0" y="0" font-size="15.5" text-anchor="middle" fill="#151515" transform="translate(570.2 565) rotate(-90) scale(1 1.035)">170</text>
<text x="0" y="0" font-size="15.5" text-anchor="middle" fill="#151515" transform="translate(593.2 574) rotate(-90) scale(1 1.035)">214</text>
<line x1="629.6" y1="113.5" x2="629.6" y2="400.4" stroke="#161616" stroke-width="1.4" stroke-linecap="butt"/>
<line x1="728.8" y1="113.5" x2="728.8" y2="162" stroke="#161616" stroke-width="1.3" stroke-linecap="butt"/>
<line x1="629.6" y1="116.2" x2="729" y2="116.2" stroke="#161616" stroke-width="1.4" stroke-linecap="butt"/>
<polygon points="629.6,116.2 639.1,114.85 639.1,117.55" fill="#161616"/>
<polygon points="729,116.2 719.5,117.55 719.5,114.85" fill="#161616"/>
<text x="0" y="0" font-size="15.5" text-anchor="middle" fill="#151515" transform="translate(677.8 113.4) scale(1 1.035)">107</text>
<line x1="585" y1="129.6" x2="682" y2="129.6" stroke="#161616" stroke-width="1.7" stroke-linecap="butt"/>
<line x1="587" y1="129.6" x2="587" y2="400.4" stroke="#161616" stroke-width="1.25" stroke-linecap="butt"/>
<polygon points="587,129.6 588.35,137.1 585.65,137.1" fill="#161616"/>
<polygon points="587,400.4 585.65,392.9 588.35,392.9" fill="#161616"/>
<line x1="585" y1="400.4" x2="640.5" y2="400.4" stroke="#161616" stroke-width="1.4" stroke-linecap="butt"/>
<path d="M665.9,400.4 L669.8,400.4 L669.8,391" fill="none" stroke="#161616" stroke-width="1.3" stroke-linejoin="round" stroke-linecap="butt"/>
<line x1="645.7" y1="391" x2="645.7" y2="394.6" stroke="#161616" stroke-width="1.2" stroke-linecap="butt"/>
<line x1="652.8" y1="391" x2="652.8" y2="394.6" stroke="#161616" stroke-width="1.2" stroke-linecap="butt"/>
<line x1="660.2" y1="391" x2="660.2" y2="394.6" stroke="#161616" stroke-width="1.2" stroke-linecap="butt"/>
<text x="0" y="0" font-size="15.5" text-anchor="middle" fill="#151515" transform="translate(583 265) rotate(-90) scale(1 1.035)">291</text>
<path d="M635.3,214 C633.6,198 633.6,178 635,157 A22,27 0 0 1 657,130 Q681.15,129.1 705.3,130 A22,27 0 0 1 727.3,157 C728.7,178 728.7,198 727,214 C726.5,226 722.3,231 714.3,236.5 C704.3,243.5 696,250 695.4,266 L695.4,361.8 M635.3,214 C635.8,226 640,231 648,236.5 C658,243.5 664.6,250 665.2,266 L665.2,361.8" fill="none" stroke="#161616" stroke-width="1.8" stroke-linejoin="round" stroke-linecap="butt"/>
<path d="M638.9,213 C637.2,198 637.2,178 638.6,157.2 A18.5,23 0 0 1 657.1,134.2 Q681.2,133.3 705.3,134.2 A18.5,23 0 0 1 723.8,157.2 C725.2,178 725.2,198 723.5,213 C723.2,223 719.3,228.5 711.8,234 C704.8,239 699.3,243.5 696.2,249.5 M638.9,213 C639.2,223 643,228.5 650.5,234 C657.5,239 663,243.5 664.6,249.5 A15.8,15.8 0 0 0 696.2,249.5" fill="none" stroke="#161616" stroke-width="1.4" stroke-linejoin="round" stroke-linecap="butt"/>
<line x1="665.2" y1="361.8" x2="695.4" y2="361.8" stroke="#161616" stroke-width="1.6" stroke-linecap="butt"/>
<circle cx="681.6" cy="142" r="2.08" fill="#0a0a0a"/>
<circle cx="681.6" cy="145.85" r="2.08" fill="#0a0a0a"/>
<circle cx="681.6" cy="149.7" r="2.08" fill="#0a0a0a"/>
<circle cx="681.6" cy="153.55" r="2.08" fill="#0a0a0a"/>
<circle cx="681.6" cy="157.4" r="2.08" fill="#0a0a0a"/>
<circle cx="681.6" cy="161.25" r="2.08" fill="#0a0a0a"/>
<circle cx="681.6" cy="165.1" r="2.08" fill="#0a0a0a"/>
<circle cx="681.6" cy="168.95" r="2.08" fill="#0a0a0a"/>
<circle cx="681.6" cy="172.8" r="2.08" fill="#0a0a0a"/>
<circle cx="681.6" cy="176.65" r="2.08" fill="#0a0a0a"/>
<circle cx="681.6" cy="180.5" r="2.08" fill="#0a0a0a"/>
<circle cx="681.6" cy="184.35" r="2.08" fill="#0a0a0a"/>
<circle cx="681.6" cy="188.2" r="2.08" fill="#0a0a0a"/>
<circle cx="695.24" cy="143.13" r="2.08" fill="#0a0a0a"/>
<circle cx="694.44" cy="146.9" r="2.08" fill="#0a0a0a"/>
<circle cx="693.64" cy="150.67" r="2.08" fill="#0a0a0a"/>
<circle cx="692.84" cy="154.43" r="2.08" fill="#0a0a0a"/>
<circle cx="692.04" cy="158.2" r="2.08" fill="#0a0a0a"/>
<circle cx="691.24" cy="161.96" r="2.08" fill="#0a0a0a"/>
<circle cx="690.44" cy="165.73" r="2.08" fill="#0a0a0a"/>
<circle cx="689.64" cy="169.49" r="2.08" fill="#0a0a0a"/>
<circle cx="688.84" cy="173.26" r="2.08" fill="#0a0a0a"/>
<circle cx="688.03" cy="177.03" r="2.08" fill="#0a0a0a"/>
<circle cx="687.23" cy="180.79" r="2.08" fill="#0a0a0a"/>
<circle cx="686.43" cy="184.56" r="2.08" fill="#0a0a0a"/>
<circle cx="685.63" cy="188.32" r="2.08" fill="#0a0a0a"/>
<circle cx="667.96" cy="143.13" r="2.08" fill="#0a0a0a"/>
<circle cx="668.76" cy="146.9" r="2.08" fill="#0a0a0a"/>
<circle cx="669.56" cy="150.67" r="2.08" fill="#0a0a0a"/>
<circle cx="670.36" cy="154.43" r="2.08" fill="#0a0a0a"/>
<circle cx="671.16" cy="158.2" r="2.08" fill="#0a0a0a"/>
<circle cx="671.96" cy="161.96" r="2.08" fill="#0a0a0a"/>
<circle cx="672.76" cy="165.73" r="2.08" fill="#0a0a0a"/>
<circle cx="673.56" cy="169.49" r="2.08" fill="#0a0a0a"/>
<circle cx="674.36" cy="173.26" r="2.08" fill="#0a0a0a"/>
<circle cx="675.17" cy="177.03" r="2.08" fill="#0a0a0a"/>
<circle cx="675.97" cy="180.79" r="2.08" fill="#0a0a0a"/>
<circle cx="676.77" cy="184.56" r="2.08" fill="#0a0a0a"/>
<circle cx="677.57" cy="188.32" r="2.08" fill="#0a0a0a"/>
<circle cx="708.24" cy="147.46" r="2.08" fill="#0a0a0a"/>
<circle cx="706.68" cy="150.98" r="2.08" fill="#0a0a0a"/>
<circle cx="705.11" cy="154.5" r="2.08" fill="#0a0a0a"/>
<circle cx="703.54" cy="158.01" r="2.08" fill="#0a0a0a"/>
<circle cx="701.98" cy="161.53" r="2.08" fill="#0a0a0a"/>
<circle cx="700.41" cy="165.05" r="2.08" fill="#0a0a0a"/>
<circle cx="698.85" cy="168.57" r="2.08" fill="#0a0a0a"/>
<circle cx="697.28" cy="172.08" r="2.08" fill="#0a0a0a"/>
<circle cx="695.71" cy="175.6" r="2.08" fill="#0a0a0a"/>
<circle cx="694.15" cy="179.12" r="2.08" fill="#0a0a0a"/>
<circle cx="692.58" cy="182.63" r="2.08" fill="#0a0a0a"/>
<circle cx="691.02" cy="186.15" r="2.08" fill="#0a0a0a"/>
<circle cx="689.45" cy="189.67" r="2.08" fill="#0a0a0a"/>
<circle cx="654.96" cy="147.46" r="2.08" fill="#0a0a0a"/>
<circle cx="656.52" cy="150.98" r="2.08" fill="#0a0a0a"/>
<circle cx="658.09" cy="154.5" r="2.08" fill="#0a0a0a"/>
<circle cx="659.66" cy="158.01" r="2.08" fill="#0a0a0a"/>
<circle cx="661.22" cy="161.53" r="2.08" fill="#0a0a0a"/>
<circle cx="662.79" cy="165.05" r="2.08" fill="#0a0a0a"/>
<circle cx="664.35" cy="168.57" r="2.08" fill="#0a0a0a"/>
<circle cx="665.92" cy="172.08" r="2.08" fill="#0a0a0a"/>
<circle cx="667.49" cy="175.6" r="2.08" fill="#0a0a0a"/>
<circle cx="669.05" cy="179.12" r="2.08" fill="#0a0a0a"/>
<circle cx="670.62" cy="182.63" r="2.08" fill="#0a0a0a"/>
<circle cx="672.18" cy="186.15" r="2.08" fill="#0a0a0a"/>
<circle cx="673.75" cy="189.67" r="2.08" fill="#0a0a0a"/>
<circle cx="715.4" cy="160.78" r="2.08" fill="#0a0a0a"/>
<circle cx="713.13" cy="163.9" r="2.08" fill="#0a0a0a"/>
<circle cx="710.87" cy="167.01" r="2.08" fill="#0a0a0a"/>
<circle cx="708.61" cy="170.13" r="2.08" fill="#0a0a0a"/>
<circle cx="706.35" cy="173.24" r="2.08" fill="#0a0a0a"/>
<circle cx="704.08" cy="176.36" r="2.08" fill="#0a0a0a"/>
<circle cx="701.82" cy="179.47" r="2.08" fill="#0a0a0a"/>
<circle cx="699.56" cy="182.58" r="2.08" fill="#0a0a0a"/>
<circle cx="697.29" cy="185.7" r="2.08" fill="#0a0a0a"/>
<circle cx="695.03" cy="188.81" r="2.08" fill="#0a0a0a"/>
<circle cx="692.77" cy="191.93" r="2.08" fill="#0a0a0a"/>
<circle cx="647.8" cy="160.78" r="2.08" fill="#0a0a0a"/>
<circle cx="650.07" cy="163.9" r="2.08" fill="#0a0a0a"/>
<circle cx="652.33" cy="167.01" r="2.08" fill="#0a0a0a"/>
<circle cx="654.59" cy="170.13" r="2.08" fill="#0a0a0a"/>
<circle cx="656.85" cy="173.24" r="2.08" fill="#0a0a0a"/>
<circle cx="659.12" cy="176.36" r="2.08" fill="#0a0a0a"/>
<circle cx="661.38" cy="179.47" r="2.08" fill="#0a0a0a"/>
<circle cx="663.64" cy="182.58" r="2.08" fill="#0a0a0a"/>
<circle cx="665.91" cy="185.7" r="2.08" fill="#0a0a0a"/>
<circle cx="668.17" cy="188.81" r="2.08" fill="#0a0a0a"/>
<circle cx="670.43" cy="191.93" r="2.08" fill="#0a0a0a"/>
<circle cx="717.64" cy="174.85" r="2.08" fill="#0a0a0a"/>
<circle cx="714.78" cy="177.42" r="2.08" fill="#0a0a0a"/>
<circle cx="711.92" cy="180" r="2.08" fill="#0a0a0a"/>
<circle cx="709.06" cy="182.58" r="2.08" fill="#0a0a0a"/>
<circle cx="706.2" cy="185.15" r="2.08" fill="#0a0a0a"/>
<circle cx="703.34" cy="187.73" r="2.08" fill="#0a0a0a"/>
<circle cx="700.48" cy="190.3" r="2.08" fill="#0a0a0a"/>
<circle cx="697.61" cy="192.88" r="2.08" fill="#0a0a0a"/>
<circle cx="694.75" cy="195.46" r="2.08" fill="#0a0a0a"/>
<circle cx="645.56" cy="174.85" r="2.08" fill="#0a0a0a"/>
<circle cx="648.42" cy="177.42" r="2.08" fill="#0a0a0a"/>
<circle cx="651.28" cy="180" r="2.08" fill="#0a0a0a"/>
<circle cx="654.14" cy="182.58" r="2.08" fill="#0a0a0a"/>
<circle cx="657" cy="185.15" r="2.08" fill="#0a0a0a"/>
<circle cx="659.86" cy="187.73" r="2.08" fill="#0a0a0a"/>
<circle cx="662.72" cy="190.3" r="2.08" fill="#0a0a0a"/>
<circle cx="665.59" cy="192.88" r="2.08" fill="#0a0a0a"/>
<circle cx="668.45" cy="195.46" r="2.08" fill="#0a0a0a"/>
<circle cx="716.41" cy="187.2" r="2.08" fill="#0a0a0a"/>
<circle cx="713.08" cy="189.12" r="2.08" fill="#0a0a0a"/>
<circle cx="709.75" cy="191.05" r="2.08" fill="#0a0a0a"/>
<circle cx="706.41" cy="192.98" r="2.08" fill="#0a0a0a"/>
<circle cx="703.08" cy="194.9" r="2.08" fill="#0a0a0a"/>
<circle cx="699.74" cy="196.83" r="2.08" fill="#0a0a0a"/>
<circle cx="696.41" cy="198.75" r="2.08" fill="#0a0a0a"/>
<circle cx="646.79" cy="187.2" r="2.08" fill="#0a0a0a"/>
<circle cx="650.12" cy="189.12" r="2.08" fill="#0a0a0a"/>
<circle cx="653.45" cy="191.05" r="2.08" fill="#0a0a0a"/>
<circle cx="656.79" cy="192.98" r="2.08" fill="#0a0a0a"/>
<circle cx="660.12" cy="194.9" r="2.08" fill="#0a0a0a"/>
<circle cx="663.46" cy="196.83" r="2.08" fill="#0a0a0a"/>
<circle cx="666.79" cy="198.75" r="2.08" fill="#0a0a0a"/>
<circle cx="717.36" cy="195.68" r="2.08" fill="#0a0a0a"/>
<circle cx="713.7" cy="196.87" r="2.08" fill="#0a0a0a"/>
<circle cx="710.04" cy="198.06" r="2.08" fill="#0a0a0a"/>
<circle cx="706.38" cy="199.25" r="2.08" fill="#0a0a0a"/>
<circle cx="702.71" cy="200.44" r="2.08" fill="#0a0a0a"/>
<circle cx="699.05" cy="201.63" r="2.08" fill="#0a0a0a"/>
<circle cx="645.84" cy="195.68" r="2.08" fill="#0a0a0a"/>
<circle cx="649.5" cy="196.87" r="2.08" fill="#0a0a0a"/>
<circle cx="653.16" cy="198.06" r="2.08" fill="#0a0a0a"/>
<circle cx="656.82" cy="199.25" r="2.08" fill="#0a0a0a"/>
<circle cx="660.49" cy="200.44" r="2.08" fill="#0a0a0a"/>
<circle cx="664.15" cy="201.63" r="2.08" fill="#0a0a0a"/>
<circle cx="718.7" cy="203.4" r="2.08" fill="#0a0a0a"/>
<circle cx="714.87" cy="203.8" r="2.08" fill="#0a0a0a"/>
<circle cx="711.04" cy="204.21" r="2.08" fill="#0a0a0a"/>
<circle cx="707.21" cy="204.61" r="2.08" fill="#0a0a0a"/>
<circle cx="703.38" cy="205.01" r="2.08" fill="#0a0a0a"/>
<circle cx="699.55" cy="205.41" r="2.08" fill="#0a0a0a"/>
<circle cx="644.5" cy="203.4" r="2.08" fill="#0a0a0a"/>
<circle cx="648.33" cy="203.8" r="2.08" fill="#0a0a0a"/>
<circle cx="652.16" cy="204.21" r="2.08" fill="#0a0a0a"/>
<circle cx="655.99" cy="204.61" r="2.08" fill="#0a0a0a"/>
<circle cx="659.82" cy="205.01" r="2.08" fill="#0a0a0a"/>
<circle cx="663.65" cy="205.41" r="2.08" fill="#0a0a0a"/>
<circle cx="718.7" cy="211.2" r="2.08" fill="#0a0a0a"/>
<circle cx="714.87" cy="210.8" r="2.08" fill="#0a0a0a"/>
<circle cx="711.04" cy="210.39" r="2.08" fill="#0a0a0a"/>
<circle cx="707.21" cy="209.99" r="2.08" fill="#0a0a0a"/>
<circle cx="703.38" cy="209.59" r="2.08" fill="#0a0a0a"/>
<circle cx="699.55" cy="209.19" r="2.08" fill="#0a0a0a"/>
<circle cx="644.5" cy="211.2" r="2.08" fill="#0a0a0a"/>
<circle cx="648.33" cy="210.8" r="2.08" fill="#0a0a0a"/>
<circle cx="652.16" cy="210.39" r="2.08" fill="#0a0a0a"/>
<circle cx="655.99" cy="209.99" r="2.08" fill="#0a0a0a"/>
<circle cx="659.82" cy="209.59" r="2.08" fill="#0a0a0a"/>
<circle cx="663.65" cy="209.19" r="2.08" fill="#0a0a0a"/>
<circle cx="717.17" cy="218.86" r="2.08" fill="#0a0a0a"/>
<circle cx="713.51" cy="217.67" r="2.08" fill="#0a0a0a"/>
<circle cx="709.85" cy="216.48" r="2.08" fill="#0a0a0a"/>
<circle cx="706.18" cy="215.29" r="2.08" fill="#0a0a0a"/>
<circle cx="702.52" cy="214.1" r="2.08" fill="#0a0a0a"/>
<circle cx="698.86" cy="212.91" r="2.08" fill="#0a0a0a"/>
<circle cx="646.03" cy="218.86" r="2.08" fill="#0a0a0a"/>
<circle cx="649.69" cy="217.67" r="2.08" fill="#0a0a0a"/>
<circle cx="653.35" cy="216.48" r="2.08" fill="#0a0a0a"/>
<circle cx="657.02" cy="215.29" r="2.08" fill="#0a0a0a"/>
<circle cx="660.68" cy="214.1" r="2.08" fill="#0a0a0a"/>
<circle cx="664.34" cy="212.91" r="2.08" fill="#0a0a0a"/>
<circle cx="713.82" cy="225.9" r="2.08" fill="#0a0a0a"/>
<circle cx="710.48" cy="223.98" r="2.08" fill="#0a0a0a"/>
<circle cx="707.15" cy="222.05" r="2.08" fill="#0a0a0a"/>
<circle cx="703.81" cy="220.12" r="2.08" fill="#0a0a0a"/>
<circle cx="700.48" cy="218.2" r="2.08" fill="#0a0a0a"/>
<circle cx="697.15" cy="216.28" r="2.08" fill="#0a0a0a"/>
<circle cx="649.38" cy="225.9" r="2.08" fill="#0a0a0a"/>
<circle cx="652.72" cy="223.98" r="2.08" fill="#0a0a0a"/>
<circle cx="656.05" cy="222.05" r="2.08" fill="#0a0a0a"/>
<circle cx="659.39" cy="220.13" r="2.08" fill="#0a0a0a"/>
<circle cx="662.72" cy="218.2" r="2.08" fill="#0a0a0a"/>
<circle cx="666.05" cy="216.28" r="2.08" fill="#0a0a0a"/>
<circle cx="707.24" cy="230.39" r="2.08" fill="#0a0a0a"/>
<circle cx="704.38" cy="227.81" r="2.08" fill="#0a0a0a"/>
<circle cx="701.52" cy="225.23" r="2.08" fill="#0a0a0a"/>
<circle cx="698.66" cy="222.66" r="2.08" fill="#0a0a0a"/>
<circle cx="695.79" cy="220.08" r="2.08" fill="#0a0a0a"/>
<circle cx="655.96" cy="230.39" r="2.08" fill="#0a0a0a"/>
<circle cx="658.82" cy="227.81" r="2.08" fill="#0a0a0a"/>
<circle cx="661.68" cy="225.23" r="2.08" fill="#0a0a0a"/>
<circle cx="664.54" cy="222.66" r="2.08" fill="#0a0a0a"/>
<circle cx="667.41" cy="220.08" r="2.08" fill="#0a0a0a"/>
<circle cx="699.23" cy="231.57" r="2.08" fill="#0a0a0a"/>
<circle cx="696.97" cy="228.46" r="2.08" fill="#0a0a0a"/>
<circle cx="694.71" cy="225.34" r="2.08" fill="#0a0a0a"/>
<circle cx="692.44" cy="222.23" r="2.08" fill="#0a0a0a"/>
<circle cx="663.97" cy="231.57" r="2.08" fill="#0a0a0a"/>
<circle cx="666.23" cy="228.46" r="2.08" fill="#0a0a0a"/>
<circle cx="668.49" cy="225.34" r="2.08" fill="#0a0a0a"/>
<circle cx="670.76" cy="222.23" r="2.08" fill="#0a0a0a"/>
<circle cx="691.57" cy="229.68" r="2.08" fill="#0a0a0a"/>
<circle cx="690" cy="226.16" r="2.08" fill="#0a0a0a"/>
<circle cx="688.43" cy="222.65" r="2.08" fill="#0a0a0a"/>
<circle cx="671.63" cy="229.68" r="2.08" fill="#0a0a0a"/>
<circle cx="673.2" cy="226.16" r="2.08" fill="#0a0a0a"/>
<circle cx="674.77" cy="222.65" r="2.08" fill="#0a0a0a"/>
<circle cx="681.6" cy="207.3" r="15.4" fill="none" stroke="#0a0a0a" stroke-width="3.6"/>
<circle cx="681.6" cy="207.3" r="12.4" fill="#0a0a0a" stroke="#0a0a0a" stroke-width="0.5"/>
<circle cx="681.6" cy="207.3" r="13" fill="none" stroke="#eee" stroke-width="0.6"/>
<circle cx="680.5" cy="248.6" r="11.7" fill="none" stroke="#161616" stroke-width="1.9"/>
<line x1="629.6" y1="353.5" x2="665.2" y2="353.5" stroke="#161616" stroke-width="1.5" stroke-linecap="butt"/>
<rect x="639" y="363.6" width="52.5" height="27.4" rx="0" fill="none" stroke="#161616" stroke-width="1.6"/>
<line x1="666.8" y1="363.6" x2="666.8" y2="391" stroke="#161616" stroke-width="1.4" stroke-linecap="butt"/>
<line x1="652.8" y1="350" x2="652.8" y2="396" stroke="#161616" stroke-width="1.1" stroke-linecap="butt" stroke-dasharray="11 2 3 2"/>
<line x1="679.8" y1="355" x2="679.8" y2="392" stroke="#161616" stroke-width="1.1" stroke-linecap="butt" stroke-dasharray="11 2 3 2"/>
<rect x="640.05" y="394.9" width="2.5" height="6" fill="#161616"/><rect x="663.45" y="394.9" width="2.5" height="6" fill="#161616"/><path d="M640.05,397.5 L665.95,397.5 L665.95,404.35 Q665.95,409.9 660.4,409.9 L645.6,409.9 Q640.05,409.9 640.05,404.35 Z" fill="#161616"/><ellipse cx="647" cy="403.9" rx="3.8" ry="4.8" fill="#fff" transform="rotate(-22 647 403.9)"/><ellipse cx="659" cy="403.9" rx="3.8" ry="4.8" fill="#fff" transform="rotate(22 659 403.9)"/><rect x="645.35" y="409.4" width="15.3" height="13.5" rx="2.6" fill="#161616"/><path d="M647.4,414.72 Q653,413.82 658.6,413.22" fill="none" stroke="#fff" stroke-width="1"/><path d="M647.4,419.45 Q653,418.55 658.6,417.95" fill="none" stroke="#fff" stroke-width="1"/>
<path d="M669.9,391.3 L690.4,391.3 L688.3,393.82 L688.3,413.6 Q688.3,415.1 686.8,415.1 L673.5,415.1 Q672,415.1 672,413.6 L672,393.82 Z" fill="#161616" stroke="#161616" stroke-width="0.6" stroke-linejoin="round" stroke-linecap="butt"/>
<path d="M673.3,399.18 Q680.15,398.88 687,397.88" fill="none" stroke="#fff" stroke-width="0.9" stroke-linejoin="round" stroke-linecap="butt"/>
<path d="M673.3,404.53 Q680.15,404.23 687,403.23" fill="none" stroke="#fff" stroke-width="0.9" stroke-linejoin="round" stroke-linecap="butt"/>
<path d="M673.3,409.89 Q680.15,409.59 687,408.59" fill="none" stroke="#fff" stroke-width="0.9" stroke-linejoin="round" stroke-linecap="butt"/>
<path d="M652.5,422 C651.5,500 649,620 649.3,668 C649.6,700 650,715 650.6,726 C651.5,745 654,752.8 662,752.8 C672,752.8 679,748 680.4,726 C681.5,705 682,690 682,668 C682.5,600 681.5,480 679.8,415" fill="none" stroke="#161616" stroke-width="2.3" stroke-linejoin="round" stroke-linecap="butt"/>
</svg>
</body></html>
